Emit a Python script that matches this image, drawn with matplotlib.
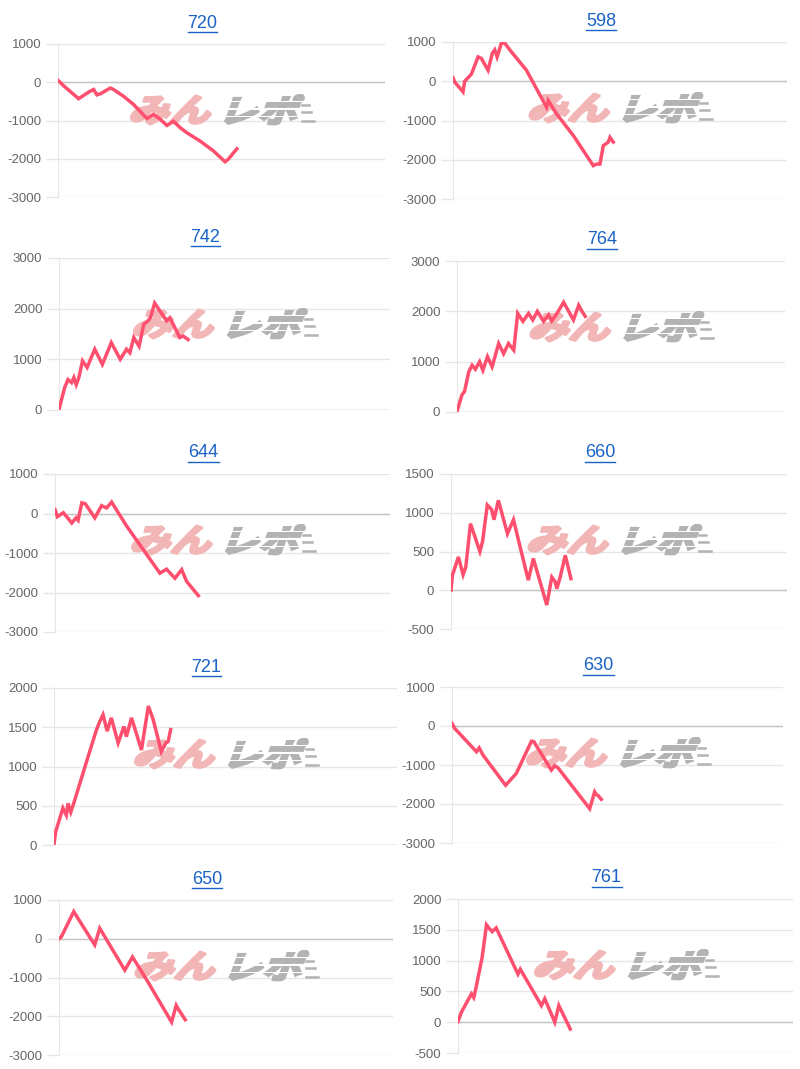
import matplotlib
matplotlib.use('Agg')
import matplotlib.pyplot as plt
from matplotlib.font_manager import FontProperties
from matplotlib.textpath import TextPath
from matplotlib.patches import PathPatch
from matplotlib.path import Path
from matplotlib.transforms import Affine2D, IdentityTransform
from matplotlib.lines import Line2D

plt.rcParams['font.family'] = ['Liberation Sans', 'DejaVu Sans']
plt.rcParams['axes.unicode_minus'] = False

W, H = 800, 1069

# data: x is progress along the x axis (0-100), y is the balance
titles = ['720', '598', '742', '764', '644', '660', '721', '630', '650', '761']

x_720 = [0, 1.7, 6.3, 9.9, 10.9, 11.9, 13.0, 16.0, 17.0, 20.1, 23.1, 27.2, 29.2, 31.3, 33.3, 35.3, 37.4, 39.4, 43.5, 47.6, 51.1, 52.1, 54.7]
y_720 = [50, -90, -430, -230, -190, -330, -300, -150, -190, -370, -580, -950, -840, -970, -1130, -1020, -1190, -1320, -1540, -1800, -2080, -2010, -1740]

x_598 = [0, 0.5, 3.0, 3.5, 5.5, 7.5, 8.5, 10.5, 11.8, 12.5, 13.2, 14.5, 15.5, 17.0, 22.0, 28.0, 28.5, 31.0, 36.0, 42.0, 43.0, 44.0, 45.0, 46.5, 47.0, 48.0]
y_598 = [90, -20, -270, 0, 180, 620, 580, 280, 720, 800, 620, 970, 970, 800, 280, -660, -490, -830, -1380, -2150, -2110, -2110, -1640, -1550, -1430, -1550]

x_742 = [0, 1.7, 2.7, 3.8, 4.5, 5.2, 6.0, 7.1, 8.5, 10.8, 13.1, 15.8, 18.5, 20.4, 21.4, 22.6, 24.2, 25.6, 26.9, 27.6, 28.9, 32.5, 33.5, 36.5, 37.5, 39.0]
y_742 = [10, 440, 600, 540, 640, 500, 640, 970, 840, 1200, 900, 1330, 1000, 1200, 1130, 1430, 1260, 1690, 1760, 1820, 2110, 1760, 1820, 1430, 1460, 1390]

x_764 = [0, 1.5, 2.3, 3.6, 4.6, 5.6, 6.9, 7.9, 9.3, 10.7, 12.7, 14.2, 15.7, 17.3, 18.5, 20.1, 21.8, 23.1, 24.5, 26.4, 27.9, 28.9, 30.5, 32.5, 35.5, 37.1, 38.1, 39.1]
y_764 = [10, 340, 410, 800, 930, 850, 1000, 830, 1100, 900, 1360, 1160, 1360, 1230, 1960, 1800, 1960, 1830, 2000, 1800, 1930, 1810, 1960, 2180, 1830, 2120, 2000, 1900]

x_644 = [0, 0.7, 2.5, 5.0, 6.3, 6.9, 8.0, 9.0, 11.9, 13.9, 15.4, 16.9, 21.4, 31.3, 33.3, 35.8, 37.8, 39.3, 42.8]
y_644 = [100, -80, 20, -240, -110, -170, 270, 250, -110, 200, 140, 290, -320, -1510, -1410, -1640, -1420, -1720, -2080]

x_660 = [0, 0.4, 2.2, 3.6, 4.4, 5.8, 8.6, 9.4, 10.8, 12.1, 12.8, 14.1, 16.8, 18.6, 23.0, 24.5, 28.5, 30.0, 31.0, 31.5, 32.5, 34.0, 35.7]
y_660 = [0, 190, 430, 200, 300, 860, 500, 630, 1100, 1040, 910, 1160, 730, 910, 130, 410, -190, 170, 110, 20, 170, 450, 150]

x_721 = [0, 0.5, 2.6, 3.6, 4.1, 4.9, 5.6, 8.0, 10.4, 12.4, 13.3, 14.3, 15.5, 16.7, 18.7, 20.4, 21.1, 22.6, 25.5, 27.5, 28.9, 31.3, 32.6, 33.3, 34.0]
y_721 = [10, 170, 470, 380, 530, 420, 510, 850, 1190, 1470, 1570, 1660, 1450, 1620, 1300, 1510, 1380, 1620, 1210, 1770, 1600, 1190, 1300, 1320, 1470]

x_630 = [0, 0.8, 7.4, 8.2, 9.4, 16.2, 19.4, 24.0, 24.7, 30.0, 31.0, 32.0, 41.6, 43.1, 43.6, 44.1, 45.1]
y_630 = [70, -60, -660, -560, -750, -1520, -1220, -390, -400, -1130, -1020, -1070, -2120, -1690, -1760, -1780, -1880]

x_650 = [0, 0.7, 4.4, 10.7, 12.2, 19.7, 22.0, 26.6, 33.7, 35.1, 35.6, 37.8]
y_650 = [0, 50, 700, -160, 270, -810, -470, -1110, -2150, -1720, -1800, -2090]

x_761 = [0, 1.0, 4.0, 4.7, 5.3, 7.2, 8.5, 9.2, 10.2, 11.4, 17.9, 18.6, 24.9, 25.9, 28.9, 30.1, 33.5]
y_761 = [10, 160, 460, 400, 540, 1050, 1580, 1530, 1470, 1530, 780, 860, 270, 380, 0, 270, -110]

xs = [x_720, x_598, x_742, x_764, x_644, x_660, x_721, x_630, x_650, x_761]
ys = [y_720, y_598, y_742, y_764, y_644, y_660, y_721, y_630, y_650, y_761]

# y axis: (min, max, step)
y_ranges = [(-3000, 1000, 1000), (-3000, 1000, 1000), (0, 3000, 1000), (0, 3000, 1000),
            (-3000, 1000, 1000), (-500, 1500, 500), (0, 2000, 500), (-3000, 1000, 1000),
            (-3000, 1000, 1000), (-500, 2000, 500)]

# axes boxes in pixels: left, top, right, bottom
boxes = [(58, 44, 385, 197), (453, 42, 787, 199),
         (59, 258, 390, 410), (457, 261, 785, 412),
         (55, 474, 390, 632), (451, 474, 787, 629),
         (54, 688, 397, 845), (452, 687, 783, 843),
         (59, 900, 393, 1055), (458, 899, 793, 1053)]

LINE = '#ff4f6e'
GRID = '#e6e6e6'
ZERO = '#c4c4c4'
LINK = '#1a62c7'
PINK = '#f2b6b6'
GRAY = '#b3b3b3'

logo_font = FontProperties(family='Noto Sans CJK JP', weight='bold')


def glyph_path(text, x0, x1, ybot, ytop):
    tp = TextPath((0, 0), text, size=100, prop=logo_font)
    p = Affine2D().skew_deg(16, 0).transform_path(tp)
    ext = p.get_extents()
    tr = (Affine2D().translate(-ext.x0, -ext.y0)
          .scale((x1 - x0) / ext.width, (ytop - ybot) / ext.height)
          .translate(x0, ybot))
    return tr.transform_path(p)


def add_logo(ax, box):
    left, top, right, bottom = box
    cx = (left + right) / 2
    lx0 = cx - 91
    ytop = H - (top + 51)
    ybot = H - (top + 81)
    pink = PathPatch(glyph_path('みん', lx0 + 1, lx0 + 80, ybot + 1, ytop - 1),
                     facecolor=PINK, edgecolor=PINK, lw=2.2,
                     joinstyle='round', transform=IdentityTransform(), zorder=1.5)
    ax.add_patch(pink)
    gx0 = lx0 + 95
    gray_path = glyph_path('レポ', gx0, gx0 + 78, ybot + 1, ytop)
    gray = PathPatch(gray_path, facecolor=GRAY, edgecolor=GRAY, lw=2.0,
                     transform=IdentityTransform(), zorder=1.5)
    # cut horizontal stripes through the gray part
    hgt = ytop + 2 - ybot
    edges = [0, 0.27, 0.32, 0.50, 0.55, 0.74, 0.79, 1.0]
    rects = []
    for a, b in zip(edges[::2], edges[1::2]):
        rects.append(Path.unit_rectangle().transformed(
            Affine2D().scale(120, (b - a) * hgt).translate(gx0 - 10, ybot - 1 + a * hgt)))
    gray.set_clip_path(Path.make_compound_path(*rects), IdentityTransform())
    ax.add_patch(gray)
    # speed lines to the right
    for yf, ln in [(0.12, 12), (0.40, 9), (0.62, 7)]:
        ax.add_line(Line2D([gx0 + 76, gx0 + 76 + ln], [ybot + yf * hgt] * 2,
                           color=GRAY, lw=1.8, transform=IdentityTransform(),
                           zorder=1.5))


fig = plt.figure(figsize=(W / 100, H / 100), dpi=100)

for i in range(10):
    left, top, right, bottom = boxes[i]
    ax = fig.add_axes([left / W, 1 - bottom / H, (right - left) / W, (bottom - top) / H])
    lo, hi, step = y_ranges[i]

    add_logo(ax, boxes[i])
    ax.plot(xs[i], ys[i], color=LINE, lw=2.5, zorder=3, solid_joinstyle='miter')

    ax.set_xlim(0, 100)
    ax.set_ylim(lo, hi)
    ax.set_yticks(range(lo, hi + 1, step))
    ax.set_xticks([])
    ax.yaxis.grid(True, color=GRID, lw=1)
    ax.set_axisbelow(True)
    if lo <= 0 <= hi:
        ax.axhline(0, color=ZERO, lw=1, zorder=0.8)
    for s in ['top', 'right', 'bottom']:
        ax.spines[s].set_visible(False)
    ax.spines['left'].set_color(GRID)
    ax.tick_params(axis='y', length=9, width=1, color=GRID, pad=3,
                   labelsize=9.5, labelcolor='#666666')

    # title, blue and underlined like a link
    tx = (left + right) / 2 - 19
    ty = top - 21
    t = fig.text(tx / W, 1 - ty / H, titles[i], color=LINK, fontsize=13,
                 ha='center', va='center')
    bb = t.get_window_extent(renderer=fig.canvas.get_renderer())
    uy = 1 - (ty + 9) / H
    fig.add_artist(Line2D([bb.x0 / W, bb.x1 / W], [uy, uy], color=LINK, lw=1,
                          transform=fig.transFigure))

fig.savefig('out.png', dpi=100, facecolor='white')
